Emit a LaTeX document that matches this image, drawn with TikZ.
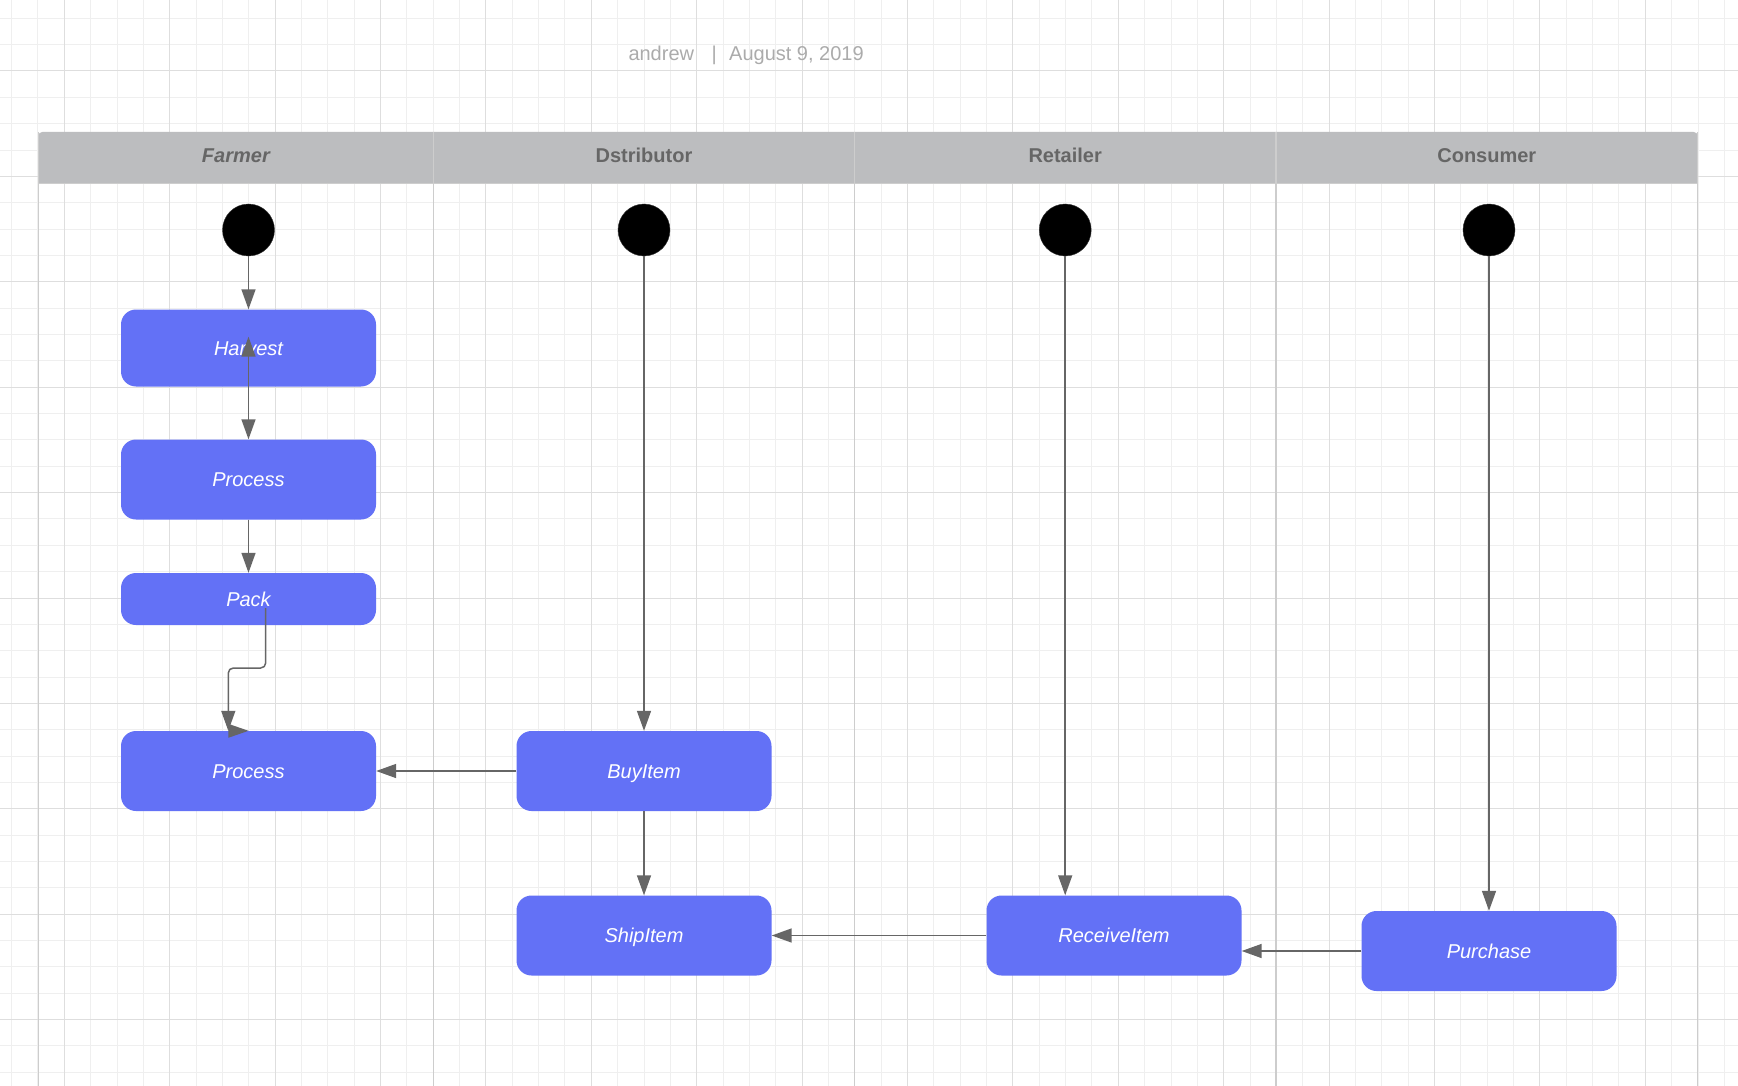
\documentclass[tikz,border=0pt]{standalone}
\usepackage{fontspec}
\setmainfont{Liberation Sans}
\usetikzlibrary{arrows.meta}

\definecolor{boxblue}{HTML}{6371F6}
\definecolor{headgray}{HTML}{BCBDBF}
\definecolor{headtext}{HTML}{666666}
\definecolor{flowgray}{HTML}{666666}
\definecolor{minorgrid}{HTML}{EFEFEF}
\definecolor{majorgrid}{HTML}{DEDEDE}
\definecolor{laneline}{HTML}{CDCDCD}
\definecolor{notegray}{HTML}{ABABAB}

\begin{document}
\begin{tikzpicture}[x=1pt,y=-1pt,
    flowtip/.tip={Triangle[width=14pt,length=20pt]},
    activity/.style={rectangle, rounded corners=15pt, fill=boxblue, text=white,
        minimum width=255pt, inner sep=0pt, text height=14.3pt, text depth=0pt,
        font=\fontsize{20}{24}\selectfont\itshape},
    startdot/.style={circle, fill=black, draw=black!80, minimum size=52pt, inner sep=0pt},
    flow/.style={draw=flowgray, line width=1.5pt, -flowtip},
    lanetitle/.style={anchor=base, inner sep=0pt, text=headtext,
        font=\fontsize{20}{24}\selectfont\bfseries}]
        \useasboundingbox (0,0) rectangle (1738,1086);
        \fill[white] (0,0) rectangle (1738,1086);
        % grid
        \foreach \i in {-2,...,63}
            \draw[minorgrid, line width=1pt] ({64.3+26.35*\i},0) -- ({64.3+26.35*\i},1086);
        \foreach \j in {-2,...,38}
            \draw[minorgrid, line width=1pt] (0,{71+26.35*\j}) -- (1738,{71+26.35*\j});
        \foreach \i in {0,...,15}
            \draw[majorgrid, line width=1pt] ({64.3+105.4*\i},0) -- ({64.3+105.4*\i},1086);
        \foreach \j in {0,...,9}
            \draw[majorgrid, line width=1pt] (0,{71+105.4*\j}) -- (1738,{71+105.4*\j});

        \node[anchor=base west, inner sep=0pt, text=notegray, font=\fontsize{20}{24}\selectfont] (byline)
            at (628.3,60.7) {andrew\hspace{17.5pt}|\hspace{12.4pt}August 9, 2019};

        % swimlanes
        \fill[headgray] (38.3,184) [rounded corners=4pt] -- (38.3,132) -- (1697.7,132) [sharp corners] -- (1697.7,184) -- cycle;
        \draw[laneline, line width=1pt] (38.3,184) -- (1697.7,184);
        \foreach \x in {38.3,433.4,854.6,1275.8,1697.7}
            \draw[laneline, line width=1.5pt] (\x,132) -- (\x,1086);
        \node[lanetitle] (farmerlane) at (235.9,162.5) {\itshape Farmer};
        \node[lanetitle] (distrlane) at (644,162.5) {Dstributor};
        \node[lanetitle] (retaillane) at (1065.2,162.5) {Retailer};
        \node[lanetitle] (consumerlane) at (1486.8,162.5) {Consumer};

        \node[startdot] (farmerstart) at (248.5,230) {};
        \node[startdot] (distrstart) at (644,230) {};
        \node[startdot] (retailstart) at (1065.2,230) {};
        \node[startdot] (consumerstart) at (1489,230) {};

        \node[activity, minimum height=77pt] (harvest) at (248.5,348) {Harvest};
        \node[activity, minimum height=80pt] (process) at (248.5,479.5) {Process};
        \node[activity, minimum height=52pt] (pack) at (248.5,599) {Pack};
        \node[activity, minimum height=80pt] (packed) at (248.5,771) {Process};
        \node[activity, minimum height=80pt] (buyitem) at (644,771) {BuyItem};
        \node[activity, minimum height=80pt] (shipitem) at (644,935.5) {ShipItem};
        \node[activity, minimum height=80pt] (receiveitem) at (1114,935.5) {ReceiveItem};
        \node[activity, minimum height=80pt] (purchase) at (1489,951) {Purchase};

        % flows
        \draw[flow] (farmerstart) -- (harvest);
        \draw[flow, flowtip-flowtip] ([yshift=11.3pt]harvest.center) -- (process);
        \draw[flow] (process) -- (pack);
        \draw[flow, rounded corners=5pt] ([xshift=17.2pt,yshift=-9pt]pack.center) -- ++(0,60) -| ([xshift=-20.2pt]packed.north);
        \fill[flowgray] ([xshift=-20.2pt,yshift=7pt]packed.north) -- (packed.north) -- ([xshift=-20.2pt,yshift=-7pt]packed.north) -- cycle;
        \draw[flow] (buyitem) -- (packed);
        \draw[flow] (distrstart) -- (buyitem);
        \draw[flow] (buyitem) -- (shipitem);
        \draw[flow] (receiveitem) -- (shipitem);
        \draw[flow] (retailstart) -- (retailstart |- receiveitem.north);
        \draw[flow] (consumerstart) -- (purchase);
        \draw[flow] (purchase) -- (purchase -| receiveitem.east);
\end{tikzpicture}
\end{document}
